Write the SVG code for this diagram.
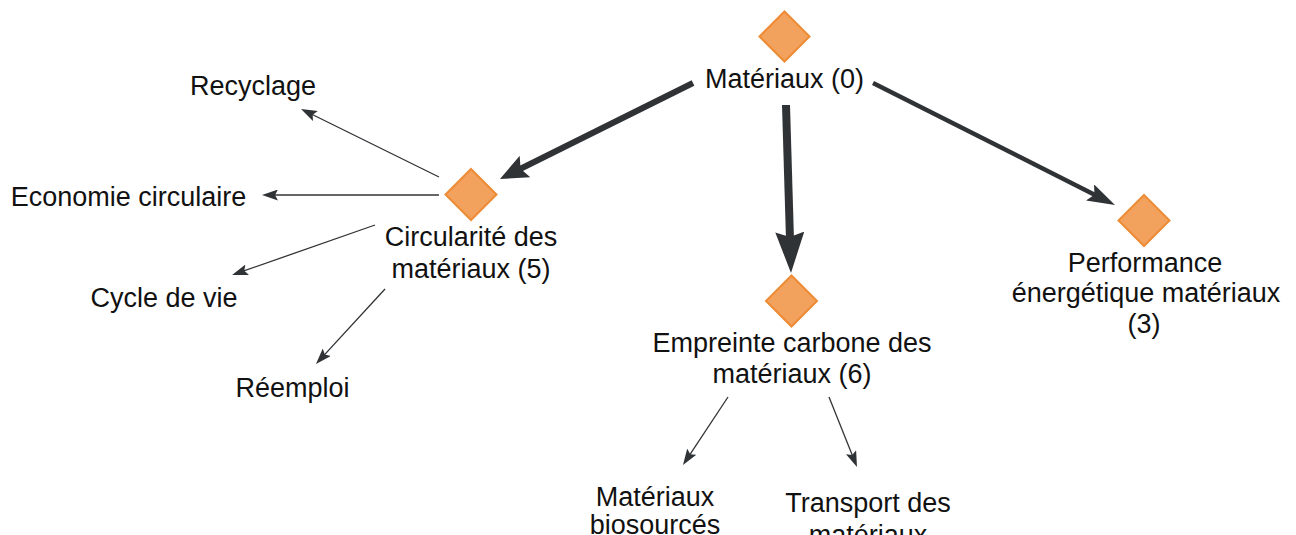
<svg xmlns="http://www.w3.org/2000/svg" width="1296" height="535" viewBox="0 0 1296 535">
<style>
.lbl{font-family:"Liberation Sans",Arial,sans-serif;font-size:27px;fill:#111;text-anchor:middle}
.dia{fill:#F2A25C;stroke:#EE8B35;stroke-width:2}
.e{stroke:#303336;fill:none}
</style>
<defs>
<marker id="hThin" markerUnits="userSpaceOnUse" markerWidth="16" markerHeight="11" refX="8" refY="5.5" orient="auto"><path d="M0,0 L16,5.5 L0,11 L3,5.5 z" fill="#303336"/></marker>
<marker id="hMed" markerUnits="userSpaceOnUse" markerWidth="28" markerHeight="18" refX="14" refY="9" orient="auto"><path d="M0,0 L28,9 L0,18 L5,9 z" fill="#303336"/></marker>
<marker id="hLrg" markerUnits="userSpaceOnUse" markerWidth="28" markerHeight="24" refX="14" refY="12" orient="auto"><path d="M0,0 L28,12 L0,24 L5,12 z" fill="#303336"/></marker>
<marker id="hXl" markerUnits="userSpaceOnUse" markerWidth="41" markerHeight="29" refX="21" refY="14.5" orient="auto"><path d="M0,0 L41,14.5 L0,29 L5,14.5 z" fill="#303336"/></marker>
</defs>
<rect width="1296" height="535" fill="#fff"/>
<g id="connectors">
<line class="e" x1="693" y1="83" x2="512.5" y2="172.8" stroke-width="6" marker-end="url(#hLrg)"/>
<line class="e" x1="786" y1="105" x2="790.4" y2="253" stroke-width="8" marker-end="url(#hXl)"/>
<line class="e" x1="873" y1="83" x2="1102.5" y2="198.7" stroke-width="4.5" marker-end="url(#hMed)"/>
<line class="e" x1="439" y1="177" x2="308.2" y2="112.5" stroke-width="1.3" marker-end="url(#hThin)"/>
<line class="e" x1="439" y1="195" x2="270" y2="195" stroke-width="1.3" marker-end="url(#hThin)"/>
<line class="e" x1="375" y1="225" x2="239.6" y2="272.4" stroke-width="1.3" marker-end="url(#hThin)"/>
<line class="e" x1="385" y1="289" x2="321.4" y2="358.1" stroke-width="1.3" marker-end="url(#hThin)"/>
<line class="e" x1="728" y1="397" x2="687.4" y2="458.3" stroke-width="1.3" marker-end="url(#hThin)"/>
<line class="e" x1="829" y1="397" x2="854" y2="459.6" stroke-width="1.3" marker-end="url(#hThin)"/>
</g>
<g id="n-materiaux">
<path class="dia" d="M784.5,11.5 L809.5,36.5 L784.5,61.5 L759.5,36.5 z"/>
<text class="lbl" x="784.5" y="88">Matériaux (0)</text>
</g>
<g id="n-circularite">
<path class="dia" d="M471,169 L496.5,194.5 L471,220 L445.5,194.5 z"/>
<text class="lbl" x="471" y="246">Circularité des</text>
<text class="lbl" x="471" y="278">matériaux (5)</text>
</g>
<g id="n-empreinte">
<path class="dia" d="M791.5,275.5 L817,301 L791.5,326.5 L766,301 z"/>
<text class="lbl" x="792" y="352">Empreinte carbone des</text>
<text class="lbl" x="792" y="383">matériaux (6)</text>
</g>
<g id="n-performance">
<path class="dia" d="M1144,195 L1169.5,220.5 L1144,246 L1118.5,220.5 z"/>
<text class="lbl" x="1145" y="272">Performance</text>
<text class="lbl" x="1146" y="302">énergétique matériaux</text>
<text class="lbl" x="1144" y="333">(3)</text>
</g>
<g id="n-recyclage"><text class="lbl" x="253" y="95">Recyclage</text></g>
<g id="n-economie"><text class="lbl" x="128.5" y="206">Economie circulaire</text></g>
<g id="n-cycle"><text class="lbl" x="164" y="307">Cycle de vie</text></g>
<g id="n-reemploi"><text class="lbl" x="292.5" y="397">Réemploi</text></g>
<g id="n-biosources">
<text class="lbl" x="655" y="506">Matériaux</text>
<text class="lbl" x="655" y="534">biosourcés</text>
</g>
<g id="n-transport">
<text class="lbl" x="868" y="512">Transport des</text>
<text class="lbl" x="868" y="544">matériaux</text>
</g>
</svg>
